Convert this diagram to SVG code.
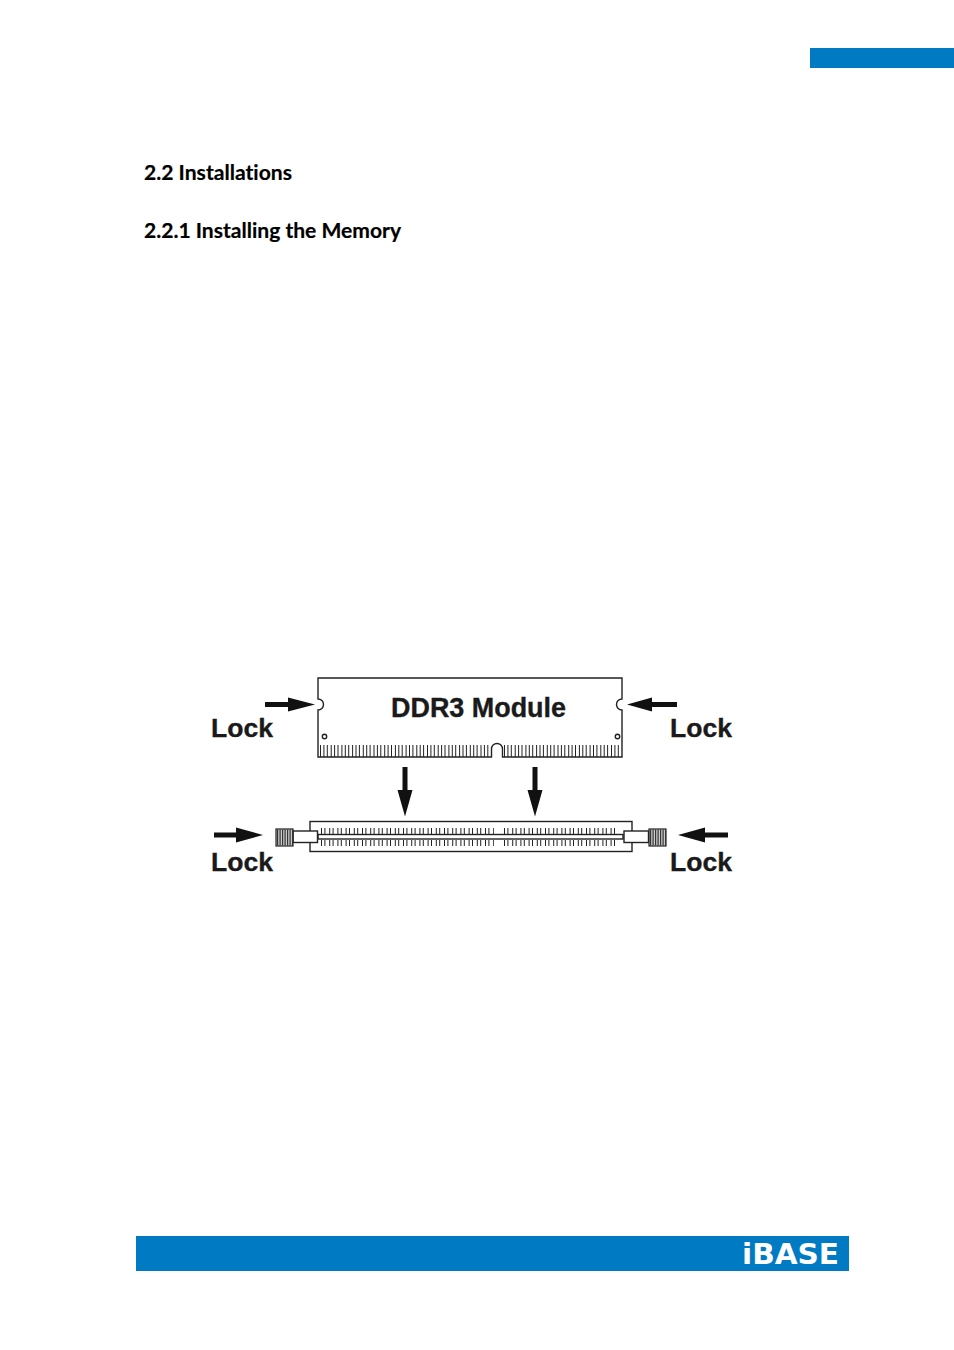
<svg xmlns="http://www.w3.org/2000/svg" width="954" height="1350" viewBox="0 0 954 1350">
<defs>
<style>
.band{fill:#007ac3}
.h{font-family:Lato,"Open Sans",sans-serif;font-weight:700;font-size:21.500px;fill:#000;font-variant-ligatures:none;stroke:#000;stroke-width:.2}
.l{font-family:"Liberation Sans",Arial,sans-serif;font-weight:700;font-size:26px;fill:#1a1a1a;stroke:#1a1a1a;stroke-width:.35}
.o{fill:#fff;stroke:#222;stroke-width:1.4}
.pin{stroke:#222;fill:none}
.p1{stroke-width:12;stroke-dasharray:1 2.4 1 2.4 1 2.9}
.p2{stroke-width:6;stroke-dasharray:1 2.4 1 3.8}
.knurl{fill:#ccc;stroke:#222;stroke-width:1.2}
.k{stroke:#333;stroke-width:16;stroke-dasharray:1.200 1.300;fill:none}
.arrow{fill:#111;stroke:none}
</style>
</defs>
<rect width="954" height="1350" fill="#fff"/>
<rect id="tab" class="band" x="810" y="48" width="144" height="20"/>
<text id="h1" class="h" x="144" y="180" textLength="148" lengthAdjust="spacingAndGlyphs">2.2 Installations</text>
<text id="h2" class="h" x="144" y="238" textLength="257" lengthAdjust="spacingAndGlyphs">2.2.1 Installing the Memory</text>

<g id="module">
<path class="o" d="M318 678H622V699A5.500 5.500 0 0 0 622 710V757H502.500V749A5.500 5.500 0 0 0 491.500 749V757H318V710A5.500 5.500 0 0 0 318 699Z"/>
<circle class="o" cx="324.500" cy="736.500" r="2.200" stroke-width="1.200"/>
<circle class="o" cx="617.500" cy="736.500" r="2.200" stroke-width="1.200"/>
<path class="pin p1" d="M320 751H490M504 751H621"/>
<text class="l" x="391" y="717" style="font-size:27px" textLength="175" lengthAdjust="spacingAndGlyphs">DDR3 Module</text>
</g>

<g id="socket">
<rect class="o" x="310" y="821.500" width="322" height="30"/>
<path class="pin p2" d="M321 831H494M504 831H617M321 843H494M504 843H617"/>
<rect class="o" x="318" y="834.500" width="305" height="4.500"/>
</g>

<g id="latch-left">
<rect class="o" x="293" y="831" width="24.500" height="11.500"/>
<rect class="knurl" x="276" y="829" width="17" height="17"/>
<path class="k" d="M277 837.500H293"/>
</g>
<g id="latch-right">
<rect class="o" x="624" y="831" width="24.500" height="11.500"/>
<rect class="knurl" x="649" y="829" width="17" height="17"/>
<path class="k" d="M650 837.500H666"/>
</g>

<g id="connectors">
<path class="arrow" d="M265 702H288V697.500L315 704.500L288 711.500V707H265Z"/>
<path class="arrow" d="M677 702H652V697.500L627 704.500L652 711.500V707H677Z"/>
<path class="arrow" d="M402.500 767H407.500V790H412.500L405 816.500L397.500 790H402.500Z"/>
<path class="arrow" d="M532.500 767H537.500V790H542.500L535 816.500L527.500 790H532.500Z"/>
<path class="arrow" d="M214 832.500H236V827.500L263 835L236 842.500V837.500H214Z"/>
<path class="arrow" d="M728 832.500H705V827.500L678 835L705 842.500V837.500H728Z"/>
</g>

<g id="labels">
<text class="l" x="211" y="737" textLength="62" lengthAdjust="spacingAndGlyphs">Lock</text>
<text class="l" x="670" y="737" textLength="62" lengthAdjust="spacingAndGlyphs">Lock</text>
<text class="l" x="211" y="871" textLength="62" lengthAdjust="spacingAndGlyphs">Lock</text>
<text class="l" x="670" y="871" textLength="62" lengthAdjust="spacingAndGlyphs">Lock</text>
</g>

<g id="footer">
<rect class="band" x="136" y="1236" width="713" height="35"/>
<text x="742" y="1264" font-family="'DejaVu Sans',sans-serif" font-weight="700" font-size="28" fill="#fff" textLength="97" lengthAdjust="spacingAndGlyphs">iBASE</text>
</g>
</svg>
